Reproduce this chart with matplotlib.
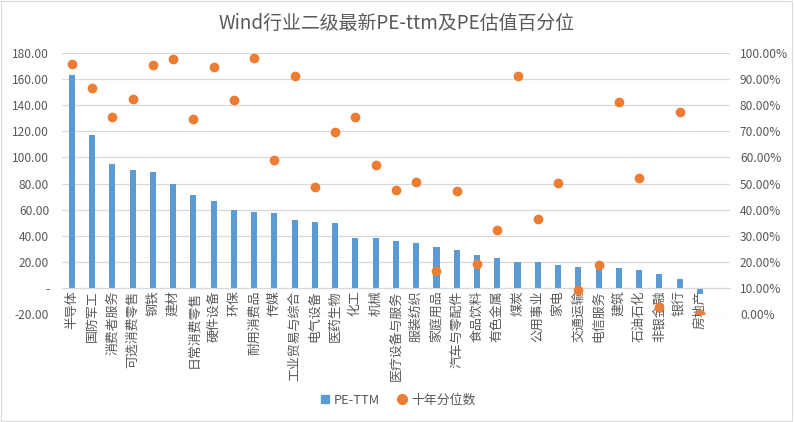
import matplotlib.pyplot as plt
from matplotlib.patches import Rectangle
from matplotlib.lines import Line2D
from matplotlib.ticker import FuncFormatter

plt.rcParams['font.family'] = ['Noto Sans CJK SC', 'DejaVu Sans']

# 行业名称
industries = ['半导体', '国防军工', '消费者服务', '可选消费零售', '钢铁', '建材', '日常消费零售',
              '硬件设备', '环保', '耐用消费品', '传媒', '工业贸易与综合', '电气设备', '医药生物',
              '化工', '机械', '医疗设备与服务', '服装纺织', '家庭用品', '汽车与零配件', '食品饮料',
              '有色金属', '煤炭', '公用事业', '家电', '交通运输', '电信服务', '建筑', '石油石化',
              '非银金融', '银行', '房地产']
# PE-TTM
pe_ttm = [163.6, 117.2, 95.1, 90.5, 88.7, 79.7, 71.0, 66.4, 59.7, 58.2, 57.7, 52.1, 50.3, 49.7,
          38.5, 37.9, 35.6, 34.1, 31.5, 29.0, 24.9, 22.8, 20.0, 19.5, 17.4, 16.4, 16.6, 14.9,
          13.8, 10.3, 6.7, -4.4]
# 十年分位数 (%)
pct_rank = [95.9, 86.6, 75.7, 82.6, 95.4, 97.7, 74.9, 94.8, 82.2, 98.0, 59.2, 91.4, 48.8, 69.8,
            75.7, 57.1, 47.5, 50.6, 16.3, 47.2, 19.1, 32.1, 91.2, 36.4, 50.1, 9.3, 18.8, 81.3,
            52.1, 2.6, 77.3, 0.0]

blue = '#5B9BD5'
orange = '#ED7D31'
grey = '#595959'

fig = plt.figure(figsize=(7.94, 4.22), dpi=100)
fig.patches.append(Rectangle((0.001, 0.002), 0.997, 0.996, transform=fig.transFigure,
                             fill=False, edgecolor='#D9D9D9', linewidth=0.8))
ax = fig.add_axes([0.0777, 0.256, 0.842, 0.618])
ax2 = ax.twinx()

x = list(range(len(industries)))
ax.bar(x, pe_ttm, width=0.3, color=blue, zorder=2)
ax2.scatter(x, [v / 100 for v in pct_rank], s=36, color=orange, zorder=3)

ax.set_xlim(-0.5, len(industries) + 0.5)
ax.set_ylim(-20, 180)
ax.set_yticks(range(-20, 181, 20))
ax.yaxis.set_major_formatter(FuncFormatter(lambda v, p: '-' if abs(v) < 1e-9 else f'{v:.2f}'))
ax2.set_ylim(0, 1)
ax2.set_yticks([i / 10 for i in range(11)])
ax2.yaxis.set_major_formatter(FuncFormatter(lambda v, p: f'{v * 100:.2f}%'))

ax.grid(axis='y', color='#D9D9D9', linewidth=0.9, zorder=0)
ax.set_axisbelow(True)
for a in (ax, ax2):
    for s in ('top', 'left', 'right'):
        a.spines[s].set_visible(False)
    a.tick_params(length=0, labelsize=8.6, labelcolor=grey)
ax2.spines['bottom'].set_visible(False)
ax.spines['bottom'].set_position(('data', 0))
ax.spines['bottom'].set_color('#D9D9D9')
ax.tick_params(axis='y', pad=9)
ax2.tick_params(axis='y', pad=7)

ax.set_xticks(x)
ax.set_xticklabels(industries, rotation=90, fontsize=9.3, color=grey)
ax.tick_params(axis='x', pad=2)

fig.text(0.5, 0.945, 'Wind行业二级最新PE-ttm及PE估值百分位', ha='center', va='center',
         fontsize=13.6, color=grey)

handles = [Line2D([], [], marker='s', linestyle='none', color=blue, markersize=5.5),
           Line2D([], [], marker='o', linestyle='none', color=orange, markersize=7)]
fig.legend(handles, ['PE-TTM', '十年分位数'], loc='center', bbox_to_anchor=(0.5, 0.052),
           ncol=2, frameon=False, fontsize=9.3, labelcolor=grey, handletextpad=0.2,
           columnspacing=1.2, handlelength=1.0)

fig.savefig('out.png', dpi=100)
